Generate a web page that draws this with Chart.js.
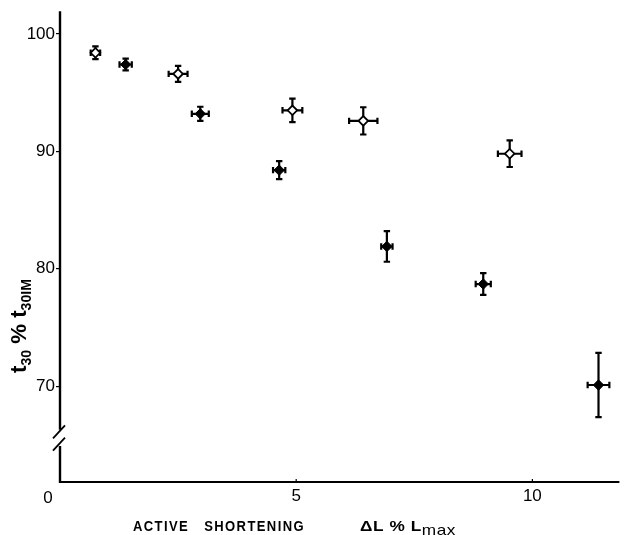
<!DOCTYPE html>
<html><head><meta charset="utf-8">
<script src="https://cdn.jsdelivr.net/npm/chart.js@4/dist/chart.umd.min.js"></script>
<style>html,body{margin:0;padding:0;background:#fff}#wrap{width:624px;height:535px}</style>
</head><body><div id="wrap"><canvas id="c" width="624" height="535"></canvas></div>
<script>
// ---- data ----
const openX    = [0.75, 2.50, 4.92, 6.42, 9.52];
const openY    = [98.4, 96.6, 93.5, 92.6, 89.8];
const openXErr = [0.10, 0.20, 0.21, 0.30, 0.25];
const openYErr = [0.55, 0.68, 1.00, 1.16, 1.13];

const filledX    = [1.39, 2.97, 4.64, 6.92, 8.96, 11.40];
const filledY    = [97.4, 93.2, 88.4, 81.9, 78.7, 70.1];
const filledXErr = [0.13, 0.18, 0.13, 0.12, 0.16, 0.23];
const filledYErr = [0.50, 0.60, 0.77, 1.30, 0.93, 2.73];

const xTickValues = [0, 5, 10];
const yTickValues = [70, 80, 90, 100];
const xRange = [0, 11.8];
const yRange = [61.84, 101.94];
const yBreakGap = [64.9, 66.3];     // axis gap (value units)
const yBreakMarks = [66.15, 65.1];  // centres of the two slashes

const yTitleParts = [["t", false], ["30", true], [" % ", false], ["t", false], ["30IM", true]];
const xTitleLeft = "ACTIVE   SHORTENING";
const xTitleRight = [["ΔL % L", false], ["max", true]];

function toPts(xs, ys) { return xs.map((x, i) => ({ x: x, y: ys[i] })); }

const errorBars = {
  id: 'errorBars',
  beforeDatasetsDraw(chart) {
    const ctx = chart.ctx, xs = chart.scales.x, ys = chart.scales.y;
    ctx.save();
    ctx.strokeStyle = '#000';
    ctx.lineWidth = 2.2;
    chart.data.datasets.forEach(ds => {
      ds.data.forEach((p, i) => {
        const px = xs.getPixelForValue(p.x), py = ys.getPixelForValue(p.y);
        const x1 = xs.getPixelForValue(p.x - ds.xErr[i]), x2 = xs.getPixelForValue(p.x + ds.xErr[i]);
        const y1 = ys.getPixelForValue(p.y - ds.yErr[i]), y2 = ys.getPixelForValue(p.y + ds.yErr[i]);
        const c = 3.2;
        ctx.beginPath();
        ctx.moveTo(x1, py); ctx.lineTo(x2, py);
        ctx.moveTo(x1, py - c); ctx.lineTo(x1, py + c);
        ctx.moveTo(x2, py - c); ctx.lineTo(x2, py + c);
        ctx.moveTo(px, y1); ctx.lineTo(px, y2);
        ctx.moveTo(px - c, y1); ctx.lineTo(px + c, y1);
        ctx.moveTo(px - c, y2); ctx.lineTo(px + c, y2);
        ctx.stroke();
      });
    });
    ctx.restore();
  }
};

function drawParts(ctx, parts, x, y, bigFont, smallFont, subShift) {
  let cx = x;
  parts.forEach(([t, sub]) => {
    ctx.font = sub ? smallFont : bigFont;
    ctx.fillText(t, cx, y + (sub ? subShift : 0));
    cx += ctx.measureText(t).width;
  });
  return cx - x;
}
function measureParts(ctx, parts, bigFont, smallFont) {
  let w = 0;
  parts.forEach(([t, sub]) => { ctx.font = sub ? smallFont : bigFont; w += ctx.measureText(t).width; });
  return w;
}

const axesDecor = {
  id: 'axesDecor',
  afterDraw(chart) {
    const ctx = chart.ctx, xs = chart.scales.x, ys = chart.scales.y, a = chart.chartArea;
    ctx.save();
    ctx.strokeStyle = '#000';
    ctx.fillStyle = '#000';
    ctx.lineWidth = 2;
    const ax = a.left, ay = a.bottom;
    // x axis
    ctx.beginPath(); ctx.moveTo(ax - 1, ay); ctx.lineTo(a.right + 2, ay); ctx.stroke();
    // y axis with break
    const g1 = ys.getPixelForValue(yBreakGap[1]), g0 = ys.getPixelForValue(yBreakGap[0]);
    ctx.lineWidth = 2.4;
    ctx.beginPath();
    ctx.moveTo(ax, a.top); ctx.lineTo(ax, g1);
    ctx.moveTo(ax, g0); ctx.lineTo(ax, ay + 1);
    ctx.stroke();
    ctx.lineWidth = 1.8;
    yBreakMarks.forEach(v => {
      const py = ys.getPixelForValue(v);
      ctx.beginPath(); ctx.moveTo(ax - 7, py + 7); ctx.lineTo(ax + 5, py - 6); ctx.stroke();
    });
    // x tick marks (upward)
    ctx.lineWidth = 1.2;
    xTickValues.slice(1).forEach(v => {
      const px = xs.getPixelForValue(v);
      ctx.beginPath(); ctx.moveTo(px, ay); ctx.lineTo(px, ay - 3); ctx.stroke();
    });
    // corner "0"
    ctx.font = '17px "Liberation Sans", Arial, sans-serif';
    ctx.textAlign = 'center'; ctx.textBaseline = 'alphabetic';
    ctx.fillText(String(xTickValues[0]), ax - 12, ay + 21);

    // x title
    ctx.textAlign = 'left';
    ctx.font = 'bold 14px "Liberation Sans", Arial, sans-serif';
    ctx.letterSpacing = '1.5px';
    const wl = ctx.measureText(xTitleLeft).width;
    ctx.save();
    ctx.translate(133, 531);
    ctx.scale(172 / wl, 1);
    ctx.fillText(xTitleLeft, 0, 0);
    ctx.restore();
    ctx.letterSpacing = '0.5px';
    const bf = 'bold 15px "Liberation Sans", Arial, sans-serif', sf = '15px "Liberation Sans", Arial, sans-serif';
    const wr = measureParts(ctx, xTitleRight, bf, sf);
    ctx.save();
    ctx.translate(360, 531);
    ctx.scale(96 / wr, 1);
    drawParts(ctx, xTitleRight, 0, 0, bf, sf, 4);
    ctx.restore();
    ctx.letterSpacing = '0px';

    // y title (rotated)
    const ybf = 'bold 22px "Liberation Sans", Arial, sans-serif', ysf = 'bold 14px "Liberation Sans", Arial, sans-serif';
    const wy = measureParts(ctx, yTitleParts, ybf, ysf);
    ctx.save();
    ctx.translate(26, 373);
    ctx.rotate(-Math.PI / 2);
    ctx.scale(94 / wy, 1);
    drawParts(ctx, yTitleParts, 0, 0, ybf, ysf, 5);
    ctx.restore();
    ctx.restore();
  }
};

new Chart(document.getElementById('c'), {
  type: 'scatter',
  data: {
    datasets: [
      { label: 'open', data: toPts(openX, openY), xErr: openXErr, yErr: openYErr,
        pointStyle: 'rectRot', pointRadius: 4.8, backgroundColor: '#fff', borderColor: '#000', borderWidth: 1.8 },
      { label: 'filled', data: toPts(filledX, filledY), xErr: filledXErr, yErr: filledYErr,
        pointStyle: 'rectRot', pointRadius: 5.2, backgroundColor: '#000', borderColor: '#000', borderWidth: 1 }
    ]
  },
  options: {
    responsive: false, animation: false, devicePixelRatio: 1,
    layout: { padding: { top: 10, right: 2, left: 0, bottom: 0 } },
    plugins: { legend: { display: false }, tooltip: { enabled: false } },
    scales: {
      x: {
        type: 'linear', min: xRange[0], max: xRange[1],
        afterBuildTicks: s => { s.ticks = xTickValues.map(v => ({ value: v })); },
        afterFit: s => { s.height = 53; },
        ticks: { autoSkip: false, maxRotation: 0, padding: 4, color: '#000',
          font: { family: '"Liberation Sans", Arial, sans-serif', size: 17 },
          callback: v => (v === xTickValues[0] ? '' : String(v)) },
        grid: { display: false, drawTicks: false }, border: { display: false }
      },
      y: {
        type: 'linear', min: yRange[0], max: yRange[1],
        afterBuildTicks: s => { s.ticks = yTickValues.map(v => ({ value: v })); },
        afterFit: s => { s.width = 60; },
        ticks: { autoSkip: false, padding: 1, color: '#000',
          font: { family: '"Liberation Sans", Arial, sans-serif', size: 17 } },
        grid: { display: true, drawOnChartArea: false, drawTicks: true, tickLength: 4, color: '#000', lineWidth: 1.2 },
        border: { display: false }
      }
    }
  },
  plugins: [errorBars, axesDecor]
});
</script></body></html>
